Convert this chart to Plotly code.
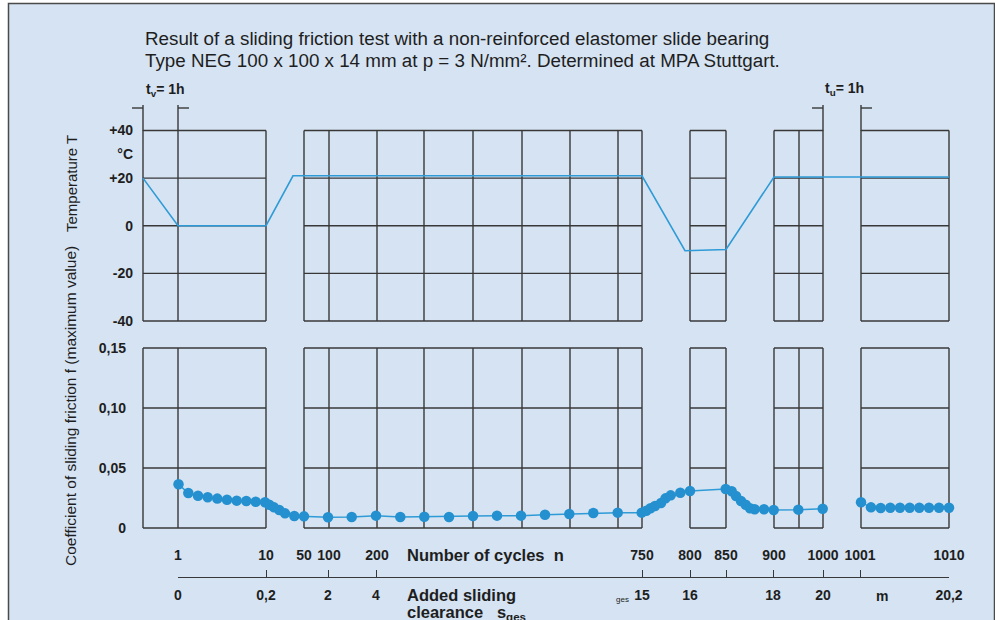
import plotly.graph_objects as go

W, H = 995, 620

# ---------------- data (x in schematic position units along the test timeline) -------------
# temperature profile
temp_x = [143, 178, 266, 293, 642, 685, 726, 774, 949]
temp_T = [20, 0, 0, 21, 21, -10.5, -10, 20.5, 20.5]

# coefficient of sliding friction (maximum value) – cycles 1 ... 1000
fric_x_a = [178.5, 188.3, 198, 207.7, 217.3, 227, 236.7, 246.3, 255.7, 265, 269.3, 274, 279.3, 285,
            294.3, 304, 328, 351.7, 376, 400.3, 424.3, 449, 473, 497, 521, 545, 569.3, 593.3,
            617.7, 641.7, 646.3, 650.5, 655, 661, 665.5, 670.7, 680.3, 690, 725.7, 731.7, 736,
            741, 745.7, 750, 754.7, 764, 773.7, 798.3, 822.7]
fric_f_a = [0.0364, 0.0292, 0.0269, 0.0256, 0.0245, 0.0236, 0.0228, 0.0225, 0.0219, 0.0214, 0.0194,
            0.0172, 0.0150, 0.0122, 0.0100, 0.0097, 0.0090, 0.0092, 0.0103, 0.0092, 0.0094, 0.0092,
            0.0100, 0.0103, 0.0103, 0.0111, 0.0117, 0.0125, 0.0128, 0.0128, 0.0144, 0.0164, 0.0183,
            0.0208, 0.0247, 0.0272, 0.0294, 0.0308, 0.0325, 0.0306, 0.0267, 0.0225, 0.0194, 0.0164,
            0.0156, 0.0156, 0.0150, 0.0153, 0.0161]
# cycles 1001 ... 1010
fric_x_b = [861, 871, 880.7, 890.3, 900, 909.7, 919.3, 929, 939, 949]
fric_f_b = [0.0214, 0.0172, 0.0167, 0.0169, 0.0169, 0.0169, 0.0169, 0.0169, 0.0169, 0.0169]

# axis ticks
temp_tickvals = [40, 30, 20, 0, -20, -40]
temp_ticktext = ["+40", "°C", "+20", "0", "-20", "-40"]
fric_tickvals = [0.15, 0.10, 0.05, 0]
fric_ticktext = ["0,15", "0,10", "0,05", "0"]

cycle_pos = [178, 266, 304, 329, 377, 642, 690, 726, 774, 823, 860, 949]
cycle_txt = ["1", "10", "50", "100", "200", "750", "800", "850", "900", "1000", "1001", "1010"]

clear_pos = [178, 266, 328, 376, 642, 690, 726, 773, 823, 860, 949]
clear_txt = ["0", "0,2", "2", "4", "15", "16", " ", "18", "20", " ", "20,2"]

# grid panels (left, right) and inner vertical lines
panels = [(143, 266), (304, 642), (690, 726), (774, 823), (861, 949)]
inner_v = [178, 329, 377, 424, 473, 522, 570, 618, 799]
temp_h = [40, 20, 0, -20, -40]
fric_h = [0.15, 0.10, 0.05, 0]

# ---------------- helpers ----------------
def ppx(px):
    return px / W

def ppy(py):
    return (H - py) / H

GRID = "#383838"
BLUE = "#2490cf"
LINEBLUE = "#2e9bd7"
TXT = "#1e1e1e"
FONT = "Liberation Sans, Arial, sans-serif"

# temperature axis: +40 at 130.5px, -40 at 321px
t_scale = (321 - 130.5) / 80.0
t_rng = [-42, 42]
t_dom = [ppy(321 + 2 * t_scale), ppy(130.5 - 2 * t_scale)]
# friction axis: 0.15 at 348px, 0 at 528px
f_scale = (528 - 348) / 0.15
f_rng = [-0.004, 0.154]
f_dom = [ppy(528 + 0.004 * f_scale), ppy(348 - 0.004 * f_scale)]

fig = go.Figure()

fig.add_trace(go.Scatter(x=temp_x, y=temp_T, mode="lines", xaxis="x", yaxis="y",
                         line=dict(color=LINEBLUE, width=1.6), hoverinfo="skip", showlegend=False))
for fx, ff in [(fric_x_a, fric_f_a), (fric_x_b, fric_f_b)]:
    fig.add_trace(go.Scatter(x=fx, y=ff, mode="lines+markers", xaxis="x", yaxis="y2",
                             line=dict(color=LINEBLUE, width=1.5),
                             marker=dict(color=BLUE, size=10.5, line=dict(width=0)),
                             hoverinfo="skip", showlegend=False))
# carrier for the sliding-clearance axis
fig.add_trace(go.Scatter(x=[500], y=[0.1], xaxis="x2", yaxis="y2", mode="markers",
                         marker=dict(opacity=0), hoverinfo="skip", showlegend=False))

shapes = []
# background panel
shapes.append(dict(type="rect", xref="paper", yref="paper", x0=ppx(8.5), x1=ppx(994.5),
                   y0=-0.05, y1=ppy(3.5), fillcolor="#d5e3f2",
                   line=dict(color="#4a4a4a", width=1.5), layer="below"))
for (l, r) in panels:
    for yref, hs in [("y", temp_h), ("y2", fric_h)]:
        lo, hi = min(hs), max(hs)
        shapes.append(dict(type="line", xref="x", yref=yref, x0=l, x1=l, y0=lo, y1=hi,
                           line=dict(color=GRID, width=1.4), layer="below"))
        shapes.append(dict(type="line", xref="x", yref=yref, x0=r, x1=r, y0=lo, y1=hi,
                           line=dict(color=GRID, width=1.4), layer="below"))
        for h in hs:
            shapes.append(dict(type="line", xref="x", yref=yref, x0=l, x1=r, y0=h, y1=h,
                               line=dict(color=GRID, width=1.4), layer="below"))
        for v in inner_v:
            if l < v < r:
                shapes.append(dict(type="line", xref="x", yref=yref, x0=v, x1=v, y0=lo, y1=hi,
                                   line=dict(color=GRID, width=1.4), layer="below"))

# dwell-time brackets (t_v and t_u)
for (a, b) in [(143, 178), (823, 861)]:
    for xv in (a, b):
        shapes.append(dict(type="line", xref="x", yref="paper", x0=xv, x1=xv,
                           y0=ppy(131), y1=ppy(105), line=dict(color=GRID, width=1.4)))
    shapes.append(dict(type="line", xref="x", yref="paper", x0=a - 11, x1=a,
                       y0=ppy(108), y1=ppy(108), line=dict(color=GRID, width=1.4)))
    shapes.append(dict(type="line", xref="x", yref="paper", x0=b, x1=b + 11,
                       y0=ppy(108), y1=ppy(108), line=dict(color=GRID, width=1.4)))

def note(x, y, text, size, xanchor="center", yanchor="middle", angle=0, align="center"):
    return dict(xref="paper", yref="paper", x=ppx(x), y=ppy(y), xanchor=xanchor, yanchor=yanchor,
                align=align, showarrow=False, textangle=angle, text=text,
                font=dict(family=FONT, size=size, color=TXT))

ann = [
    note(143, 39, "Result of a sliding friction test with a non-reinforced elastomer slide bearing",
         18.8, xanchor="left"),
    note(143, 60, "Type NEG 100 x 100 x 14 mm at p = 3 N/mm². Determined at MPA Stuttgart.",
         18.8, xanchor="left"),
    note(165, 90, "<b>t<sub>v</sub>= 1h</b>", 14),
    note(844, 89, "<b>t<sub>u</sub>= 1h</b>", 14),
    note(71, 184, "Temperature T", 15, angle=-90),
    note(71, 406, "Coefficient of sliding friction f (maximum value)", 15.5, angle=-90),
    note(405, 555, "<b>Number of cycles  n</b>", 16.5, xanchor="left"),
    note(405, 595, "<b>Added sliding</b>", 16.5, xanchor="left"),
    note(405, 613, "<b>clearance   s<sub>ges</sub></b>", 16.5, xanchor="left"),
    note(622, 599, "ges", 8),
    note(882, 596, "<b>m</b>", 14),
]

tickfont = dict(family=FONT, size=14, color=TXT, weight="bold")
common = dict(showgrid=False, zeroline=False, automargin=False, fixedrange=True, tickfont=tickfont)

fig.update_layout(
    width=W, height=H, margin=dict(l=0, r=0, t=0, b=0, pad=0, autoexpand=False),
    paper_bgcolor="white", plot_bgcolor="rgba(0,0,0,0)",
    shapes=shapes, annotations=ann, showlegend=False,
    xaxis=dict(domain=[0, 1], range=[0, W], anchor="free", position=ppy(545),
               tickvals=cycle_pos, ticktext=cycle_txt, ticks="", showline=False, **common),
    xaxis2=dict(domain=[ppx(178), ppx(949)], range=[178, 949], anchor="free", position=ppy(577),
                tickvals=clear_pos, ticktext=clear_txt, ticks="inside", ticklen=7, tickwidth=1.4,
                tickcolor=GRID, showline=True, linecolor=GRID, linewidth=1.4,
                ticklabelstandoff=5, **common),
    yaxis=dict(domain=t_dom, range=t_rng, anchor="free", position=ppx(143), side="left",
               tickvals=temp_tickvals, ticktext=temp_ticktext, ticks="", showline=False,
               ticklabelstandoff=10, **common),
    yaxis2=dict(domain=f_dom, range=f_rng, anchor="free", position=ppx(143), side="left",
                tickvals=fric_tickvals, ticktext=fric_ticktext, ticks="", showline=False,
                ticklabelstandoff=17, **common),
)

post = """
document.documentElement.style.margin = '0';
document.documentElement.style.overflow = 'hidden';
document.body.style.margin = '0';
document.body.style.padding = '0';
document.body.style.overflow = 'hidden';
"""

fig.write_html("out.html", post_script=post, config={"displayModeBar": False})
